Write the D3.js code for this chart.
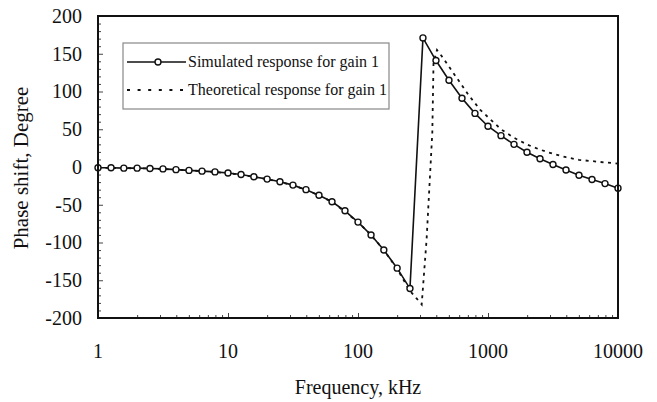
<!DOCTYPE html>
<html>
<head>
<meta charset="utf-8">
<script src="https://cdn.jsdelivr.net/npm/d3@7"></script>
<style>
    body { margin: 0; background: #fff; }
    text { font-family: "Liberation Serif", "Times New Roman", serif; fill: #111; }
</style>
</head>
<body>
<div id="chart"></div>
<script>
// frequencies in kHz, phase in degrees
var simFreq = [1, 1.26, 1.58, 2, 2.51, 3.16, 3.98, 5.01, 6.31, 7.94,
    10, 12.6, 15.8, 20, 25.1, 31.6, 39.8, 50.1, 63.1, 79.4,
    100, 126, 158, 200, 251, 316, 398, 501, 631, 794,
    1000, 1259, 1585, 1995, 2512, 3162, 3981, 5012, 6310, 7943, 10000];
var simPhase = [-1, -1, -1.5, -1.5, -2, -2.5, -3.5, -4.5, -5.5, -6.5,
    -8, -10, -13, -16, -19.5, -24, -30, -37.5, -46, -58,
    -73, -90, -110, -134, -161, 171, 141, 115, 91, 71,
    54, 41.5, 30, 19.5, 11, 3.3, -4, -11, -16.5, -22, -28];

var theoFreq = [1, 1.58, 2.51, 3.98, 6.31, 10, 15.8, 25.1, 39.8, 63.1,
    100, 126, 158, 200, 251, 282, 309, 337, 373, 381,
    405, 440, 510, 575, 705, 868, 1000, 1259, 1585, 1995,
    2512, 3162, 3981, 5012, 6310, 7943, 10000];
var theoPhase = [-1, -1.5, -2, -3.5, -5.5, -8, -13, -19.5, -30, -46,
    -73, -90, -110, -135, -164, -174, -182, -96, 46, 138,
    155, 147, 131, 118, 96, 76, 66, 50, 38.7, 29.8,
    23, 17.5, 13, 9.5, 7.8, 6, 4.6];

var xTicks = [1, 10, 100, 1000, 10000];
var yTicks = [-200, -150, -100, -50, 0, 50, 100, 150, 200];
var legendLabels = ['Simulated response for gain 1', 'Theoretical response for gain 1'];

var width = 657, height = 402;
var margin = {top: 16, right: 39, bottom: 84, left: 98};

var svg = d3.select('#chart').append('svg')
    .attr('width', width)
    .attr('height', height);

var x = d3.scaleLog().domain([1, 10000]).range([margin.left, width - margin.right]);
var y = d3.scaleLinear().domain([-200, 200]).range([height - margin.bottom, margin.top]);

// minor ticks: 2..9 per decade on x, every 10 deg on y
var xMinor = [];
xTicks.slice(0, -1).forEach(function (d) {
    for (var m = 2; m < 10; m++) xMinor.push(d * m);
});
var yMinor = d3.range(-200, 201, 10).filter(function (d) { return d % 50 !== 0; });

var xAxis = svg.append('g')
    .attr('transform', 'translate(0,' + y(-200) + ')')
    .call(d3.axisTop(x).tickValues(xTicks).tickSize(5).tickFormat(''));
svg.append('g')
    .attr('transform', 'translate(0,' + y(-200) + ')')
    .call(d3.axisTop(x).tickValues(xMinor).tickSize(3).tickFormat(''));
svg.append('g')
    .attr('transform', 'translate(' + x(1) + ',0)')
    .call(d3.axisRight(y).tickValues(yTicks).tickSize(5).tickFormat(''));
svg.append('g')
    .attr('transform', 'translate(' + x(1) + ',0)')
    .call(d3.axisRight(y).tickValues(yMinor).tickSize(3).tickFormat(''));
svg.selectAll('.domain').remove();
svg.selectAll('.tick line').attr('stroke', '#444').attr('stroke-width', 1);

// tick labels
svg.append('g').selectAll('text').data(xTicks).enter().append('text')
    .attr('x', function (d) { return x(d); })
    .attr('y', 358)
    .attr('text-anchor', 'middle')
    .style('font-size', '20px')
    .text(function (d) { return d; });

svg.append('g').selectAll('text').data(yTicks).enter().append('text')
    .attr('x', 82)
    .attr('y', function (d) { return y(d); })
    .attr('dy', '0.34em')
    .attr('text-anchor', 'end')
    .style('font-size', '20px')
    .text(function (d) { return d; });

// axis titles
svg.append('text')
    .attr('x', (x(1) + x(10000)) / 2)
    .attr('y', 394)
    .attr('text-anchor', 'middle')
    .style('font-size', '20px')
    .text('Frequency, kHz');

svg.append('text')
    .attr('transform', 'translate(28,' + (y(0) + 1) + ') rotate(-90)')
    .attr('text-anchor', 'middle')
    .style('font-size', '21px')
    .text('Phase shift, Degree');

// curves
var line = d3.line()
    .x(function (d) { return x(d[0]); })
    .y(function (d) { return y(d[1]); });

var theo = d3.zip(theoFreq, theoPhase);
var sim = d3.zip(simFreq, simPhase);

svg.append('path')
    .datum(theo)
    .attr('fill', 'none')
    .attr('stroke', '#111')
    .attr('stroke-width', 1.8)
    .attr('stroke-dasharray', '3,4.5')
    .attr('d', line);

svg.append('path')
    .datum(sim)
    .attr('fill', 'none')
    .attr('stroke', '#111')
    .attr('stroke-width', 1.6)
    .attr('d', line);

svg.append('g').selectAll('circle').data(sim).enter().append('circle')
    .attr('cx', function (d) { return x(d[0]); })
    .attr('cy', function (d) { return y(d[1]); })
    .attr('r', 3)
    .attr('fill', '#fff')
    .attr('stroke', '#111')
    .attr('stroke-width', 1.4);

// frame
svg.append('rect')
    .attr('x', x(1))
    .attr('y', y(200))
    .attr('width', x(10000) - x(1))
    .attr('height', y(-200) - y(200))
    .attr('fill', 'none')
    .attr('stroke', '#111')
    .attr('stroke-width', 2);

// legend
var legend = svg.append('g').attr('transform', 'translate(123,43)');
legend.append('rect')
    .attr('width', 266)
    .attr('height', 66)
    .attr('fill', '#fff')
    .attr('stroke', '#888')
    .attr('stroke-width', 1.2);

legend.append('line')
    .attr('x1', 4).attr('x2', 63).attr('y1', 19).attr('y2', 19)
    .attr('stroke', '#111').attr('stroke-width', 1.6);
legend.append('circle')
    .attr('cx', 35).attr('cy', 19).attr('r', 3)
    .attr('fill', '#fff').attr('stroke', '#111').attr('stroke-width', 1.4);
legend.append('line')
    .attr('x1', 4).attr('x2', 63).attr('y1', 47).attr('y2', 47)
    .attr('stroke', '#111').attr('stroke-width', 1.8)
    .attr('stroke-dasharray', '3,7.6');

legend.selectAll('text.lbl').data(legendLabels).enter().append('text')
    .attr('class', 'lbl')
    .attr('x', 65)
    .attr('y', function (d, i) { return 19 + i * 28; })
    .attr('dy', '0.33em')
    .style('font-size', '16px')
    .text(function (d) { return d; });
</script>
</body>
</html>
